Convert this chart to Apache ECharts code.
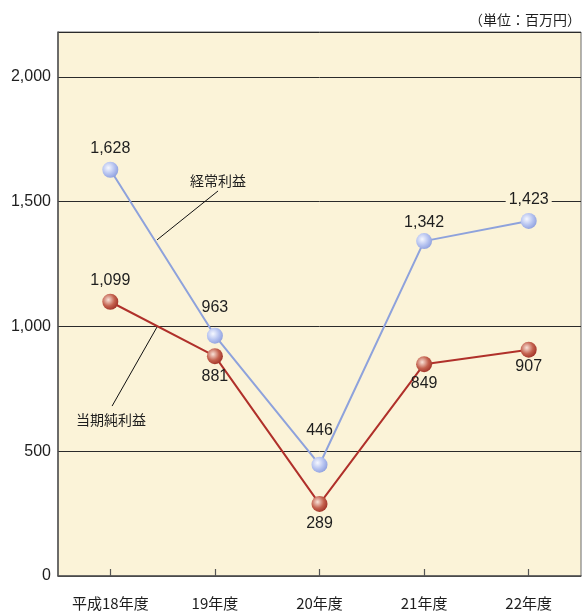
<!DOCTYPE html>
<html>
<head>
<meta charset="utf-8">
<script src="https://cdn.jsdelivr.net/npm/echarts@6/dist/echarts.min.js"></script>
<style>
  html, body { margin: 0; padding: 0; background: #ffffff; }
  #chart { width: 582px; height: 611px; }
</style>
</head>
<body>
<div id="chart"></div>
<script>
// Fiscal years and profit figures (million yen)
const categories = ['平成18年度', '19年度', '20年度', '21年度', '22年度'];
const ordinaryProfit = [1628, 963, 446, 1342, 1423];   // 経常利益
const netIncome = [1099, 881, 289, 849, 907];           // 当期純利益
const unitText = '（単位：百万円）';

// Value label placement per point: side of the marker and gap from it
const ordinaryLabelSide = ['top', 'top', 'top', 'top', 'top'];
const ordinaryLabelGap = [5, 12, 18, 3, 5];
const netLabelSide = ['top', 'bottom', 'bottom', 'bottom', 'bottom'];
const netLabelGap = [5, 4, 4, 3, 1];
// Only this label sits on a grid line, so it gets a plot-coloured backing
const ordinaryLabelBacked = [false, false, false, false, true];

const NUM_FONT = '"Liberation Sans", Arial, "Noto Sans CJK JP", sans-serif';
const JP_FONT = '"Noto Sans CJK JP", "Liberation Sans", sans-serif';
const PLOT_BG = '#fbf3d8';

function fmt(v) {
  return v.toLocaleString('en-US');
}

function sphere(highlight, base, edge) {
  return {
    type: 'radial', x: 0.38, y: 0.38, r: 0.7,
    colorStops: [
      { offset: 0, color: highlight },
      { offset: 0.55, color: base },
      { offset: 1, color: edge }
    ]
  };
}

function seriesData(values, sides, gaps, backed) {
  return values.map((v, i) => {
    const label = { position: sides[i], distance: gaps[i] };
    if (backed && backed[i]) {
      label.backgroundColor = PLOT_BG;
      label.padding = [0, 3];
    }
    return { value: v, label };
  });
}

const chart = echarts.init(document.getElementById('chart'), null, { renderer: 'canvas' });

chart.setOption({
  animation: false,
  backgroundColor: '#ffffff',
  grid: {
    left: 58, top: 32, right: 1, bottom: 35,
    show: true,
    backgroundColor: PLOT_BG,
    borderColor: '#6a6a6a',
    borderWidth: 1
  },
  xAxis: {
    type: 'category',
    data: categories,
    boundaryGap: true,
    axisLine: { show: true, lineStyle: { color: '#555', width: 1.5 } },
    axisTick: { show: true, alignWithLabel: true, inside: true, length: 7, lineStyle: { color: '#555', width: 1.2 } },
    axisLabel: { margin: 20, color: '#1e1e1e', fontSize: 15, fontFamily: JP_FONT }
  },
  yAxis: {
    type: 'value',
    min: 0,
    max: 2180,
    interval: 500,
    axisLine: { show: true, lineStyle: { color: '#555', width: 1.5 } },
    axisTick: { show: false },
    axisLabel: {
      margin: 7, color: '#1e1e1e', fontSize: 16, fontFamily: NUM_FONT,
      formatter: v => (v % 500 === 0 ? fmt(v) : '')
    },
    splitLine: { show: true, lineStyle: { color: '#2a2a2a', width: 1 } }
  },
  series: [
    {
      name: '経常利益',
      type: 'line',
      data: seriesData(ordinaryProfit, ordinaryLabelSide, ordinaryLabelGap, ordinaryLabelBacked),
      symbol: 'circle',
      symbolSize: 16,
      z: 3,
      lineStyle: { color: '#8ea2dc', width: 2 },
      itemStyle: { color: sphere('#f6f8ff', '#b6c3f0', '#8a9cdc'), borderWidth: 0 },
      label: {
        show: true, color: '#1e1e1e', fontSize: 16, fontFamily: NUM_FONT,
        formatter: p => fmt(p.value)
      }
    },
    {
      name: '当期純利益',
      type: 'line',
      data: seriesData(netIncome, netLabelSide, netLabelGap, null),
      symbol: 'circle',
      symbolSize: 16,
      z: 4,
      lineStyle: { color: '#b0302a', width: 2 },
      itemStyle: { color: sphere('#f8e2d8', '#c4624f', '#9c2c22'), borderWidth: 0 },
      label: {
        show: true, color: '#1e1e1e', fontSize: 16, fontFamily: NUM_FONT,
        formatter: p => fmt(p.value)
      }
    }
  ]
});

// Callout labels: positions given as (category index fraction, value)
const callouts = [
  { text: '経常利益', textAt: [1.03, 1583], from: [1.03, 1543], to: [0.447, 1347] },
  { text: '当期純利益', textAt: [0.007, 625], from: [0.017, 681], to: [0.447, 998] }
];

function toPixel(pt) {
  const x0 = chart.convertToPixel({ xAxisIndex: 0 }, 0);
  const x1 = chart.convertToPixel({ xAxisIndex: 0 }, 1);
  const y = chart.convertToPixel({ yAxisIndex: 0 }, pt[1]);
  return [x0 + (x1 - x0) * pt[0], y];
}

const graphics = [];
callouts.forEach(c => {
  const a = toPixel(c.from), b = toPixel(c.to), t = toPixel(c.textAt);
  graphics.push({
    type: 'line', z: 10,
    shape: { x1: a[0], y1: a[1], x2: b[0], y2: b[1] },
    style: { stroke: '#111', lineWidth: 1 }
  });
  graphics.push({
    type: 'text', z: 10,
    x: t[0], y: t[1],
    style: {
      text: c.text, fill: '#1e1e1e', font: '14px ' + JP_FONT,
      align: 'center', verticalAlign: 'middle'
    }
  });
});
graphics.push({
  type: 'text',
  right: 1, top: 13,
  style: { text: unitText, fill: '#1e1e1e', font: '14px ' + JP_FONT }
});

chart.setOption({ graphic: graphics });
</script>
</body>
</html>
